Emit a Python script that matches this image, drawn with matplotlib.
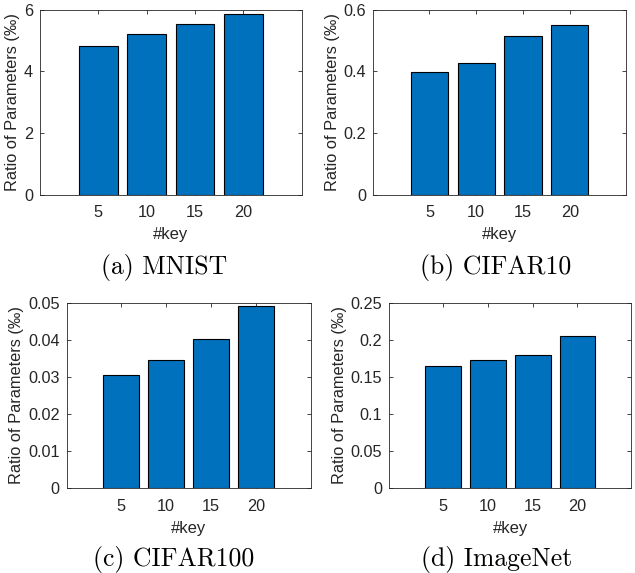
import numpy as np
import matplotlib
matplotlib.use("Agg")
import matplotlib.pyplot as plt

keys = [5, 10, 15, 20]

mnist = [4.83, 5.20, 5.54, 5.85]
cifar10 = [0.397, 0.428, 0.515, 0.551]
cifar100 = [0.0306, 0.0344, 0.0401, 0.0492]
imagenet = [0.164, 0.1725, 0.180, 0.205]

captions = ["(a) MNIST", "(b) CIFAR10", "(c) CIFAR100", "(d) ImageNet"]
ylims = [6, 0.6, 0.05, 0.25]
yticks = [
    [0, 2, 4, 6],
    [0, 0.2, 0.4, 0.6],
    [0, 0.01, 0.02, 0.03, 0.04, 0.05],
    [0, 0.05, 0.1, 0.15, 0.2, 0.25],
]
yticklabels = [
    ["0", "2", "4", "6"],
    ["0", "0.2", "0.4", "0.6"],
    ["0", "0.01", "0.02", "0.03", "0.04", "0.05"],
    ["0", "0.05", "0.1", "0.15", "0.2", "0.25"],
]

plt.rcParams['font.family'] = ['Liberation Sans', 'DejaVu Sans']
GRAY = '#262626'
BLUE = '#0072BD'

fig = plt.figure(figsize=(6.35, 5.73), dpi=100)

# axes boxes in figure fractions (left, bottom, width, height)
boxes = [
    [0.063, 0.660, 0.412, 0.323],
    [0.588, 0.660, 0.3975, 0.323],
    [0.105, 0.148, 0.384, 0.324],
    [0.613, 0.148, 0.381, 0.324],
]
cap_pos = [(0.259, 0.522), (0.781, 0.522), (0.273, 0.013), (0.782, 0.013)]

for i, vals in enumerate([mnist, cifar10, cifar100, imagenet]):
    ax = fig.add_axes(boxes[i])
    ax.bar(keys, vals, width=4, color=BLUE, edgecolor='black', linewidth=0.8, zorder=2)
    ax.set_xlim(-1, 26)
    ax.set_ylim(0, ylims[i])
    ax.set_xticks(keys)
    ax.set_yticks(yticks[i])
    ax.set_yticklabels(yticklabels[i])
    ax.tick_params(direction='in', length=3, width=0.6, colors=GRAY,
                   labelsize=11.7, top=True, right=True, pad=5)
    ax.tick_params(axis='x', pad=7.5)
    for s in ax.spines.values():
        s.set_color(GRAY)
        s.set_linewidth(0.6)
    ax.set_xlabel("#key", fontsize=12, color=GRAY, labelpad=5)
    ax.set_ylabel("Ratio of Parameters (‰)", fontsize=11.8, color=GRAY, labelpad=3)
    fig.text(cap_pos[i][0], cap_pos[i][1], captions[i], family='cmr10',
             fontsize=18.5, ha='center', va='baseline', color='black')

fig.savefig("out.png", dpi=100)
